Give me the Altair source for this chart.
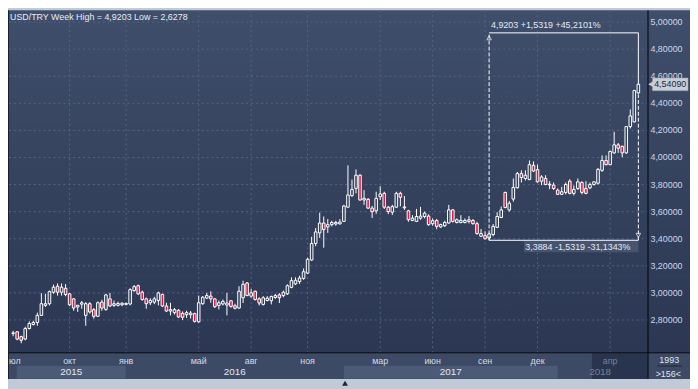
import altair as alt
import pandas as pd

# ---------------- data (weekly USD/TRY candles) ----------------
opens = [2.700, 2.713, 2.677, 2.659, 2.737, 2.766, 2.781, 2.834, 2.908, 2.920,
         3.005, 3.049, 3.005, 3.034, 2.993, 2.956, 2.896, 2.917, 2.834, 2.920,
         2.876, 2.827, 2.932, 2.878, 2.956, 2.908, 2.908, 2.912, 2.915, 2.918,
         3.017, 3.053, 3.005, 2.956, 2.927, 2.932, 2.944, 2.988, 2.903, 2.866,
         2.854, 2.871, 2.849, 2.839, 2.839, 2.847, 2.786, 2.920, 2.961, 2.976,
         2.956, 2.907, 2.918, 2.910, 2.942, 2.905, 2.888, 2.964, 3.073, 2.976,
         3.012, 2.956, 2.915, 2.944, 2.942, 2.966, 2.985, 2.980, 2.993, 3.041,
         3.066, 3.083, 3.107, 3.146, 3.243, 3.365, 3.443, 3.516, 3.487, 3.504,
         3.509, 3.510, 3.528, 3.633, 3.718, 3.772, 3.869, 3.686, 3.691, 3.626,
         3.606, 3.710, 3.735, 3.633, 3.596, 3.633, 3.735, 3.635, 3.606, 3.535,
         3.528, 3.552, 3.564, 3.567, 3.511, 3.535, 3.487, 3.496, 3.516, 3.613,
         3.520, 3.520, 3.520, 3.528, 3.535, 3.511, 3.418, 3.423, 3.405, 3.431,
         3.484, 3.557, 3.742, 3.613, 3.693, 3.776, 3.881, 3.845, 3.837, 3.942,
         3.910, 3.825, 3.845, 3.803, 3.796, 3.759, 3.728, 3.742, 3.825, 3.735,
         3.771, 3.815, 3.771, 3.776, 3.800, 3.810, 3.905, 3.978, 3.947, 4.034,
         4.093, 4.082, 4.034, 4.228, 4.263, 4.477]
highs = [2.720, 2.718, 2.684, 2.750, 2.790, 2.795, 2.854, 2.998, 2.993, 3.017,
         3.061, 3.070, 3.070, 3.065, 2.998, 2.961, 2.912, 2.940, 2.932, 2.932,
         2.888, 2.937, 2.950, 2.993, 3.000, 2.944, 2.935, 2.930, 2.928, 3.034,
         3.058, 3.061, 3.017, 2.966, 2.961, 2.971, 3.009, 2.995, 2.927, 2.927,
         2.888, 2.880, 2.863, 2.869, 2.866, 2.854, 2.980, 2.976, 3.000, 3.012,
         2.961, 2.944, 2.951, 3.000, 2.946, 2.920, 3.049, 3.090, 3.080, 3.029,
         3.017, 2.968, 2.976, 2.976, 2.980, 2.993, 2.998, 3.017, 3.063, 3.115,
         3.115, 3.127, 3.180, 3.260, 3.414, 3.479, 3.593, 3.564, 3.545, 3.533,
         3.533, 3.545, 3.650, 3.942, 3.837, 3.912, 3.876, 3.759, 3.700, 3.642,
         3.747, 3.788, 3.747, 3.642, 3.650, 3.747, 3.747, 3.715, 3.613, 3.574,
         3.620, 3.635, 3.600, 3.581, 3.550, 3.545, 3.511, 3.533, 3.650, 3.618,
         3.550, 3.574, 3.550, 3.567, 3.545, 3.525, 3.472, 3.455, 3.445, 3.509,
         3.596, 3.637, 3.747, 3.679, 3.845, 3.893, 3.905, 3.905, 3.978, 3.971,
         3.947, 3.869, 3.869, 3.825, 3.815, 3.771, 3.783, 3.815, 3.840, 3.793,
         3.845, 3.825, 3.825, 3.815, 3.825, 3.922, 4.015, 4.015, 4.051, 4.190,
         4.107, 4.088, 4.230, 4.355, 4.500, 4.9203]
lows = [2.680, 2.650, 2.628, 2.650, 2.730, 2.760, 2.757, 2.830, 2.896, 2.908,
        2.993, 2.980, 2.980, 2.975, 2.903, 2.868, 2.860, 2.883, 2.757, 2.847,
        2.810, 2.822, 2.868, 2.868, 2.896, 2.896, 2.900, 2.902, 2.908, 2.908,
        3.009, 2.985, 2.942, 2.883, 2.910, 2.917, 2.908, 2.895, 2.859, 2.834,
        2.840, 2.815, 2.800, 2.815, 2.810, 2.781, 2.781, 2.912, 2.956, 2.927,
        2.888, 2.878, 2.908, 2.834, 2.890, 2.878, 2.883, 2.925, 2.976, 2.964,
        2.944, 2.907, 2.907, 2.937, 2.915, 2.956, 2.925, 2.968, 2.985, 3.034,
        3.058, 3.066, 3.097, 3.139, 3.236, 3.345, 3.406, 3.334, 3.443, 3.491,
        3.496, 3.505, 3.525, 3.630, 3.710, 3.735, 3.681, 3.650, 3.620, 3.553,
        3.584, 3.686, 3.620, 3.582, 3.575, 3.628, 3.640, 3.613, 3.526, 3.530,
        3.523, 3.540, 3.550, 3.496, 3.496, 3.470, 3.480, 3.487, 3.511, 3.520,
        3.513, 3.513, 3.513, 3.513, 3.504, 3.430, 3.414, 3.394, 3.3884, 3.418,
        3.479, 3.552, 3.626, 3.600, 3.674, 3.772, 3.815, 3.830, 3.832, 3.893,
        3.815, 3.796, 3.796, 3.766, 3.760, 3.723, 3.723, 3.728, 3.728, 3.720,
        3.760, 3.728, 3.728, 3.766, 3.793, 3.800, 3.893, 3.942, 3.942, 4.027,
        4.034, 4.002, 4.027, 4.214, 4.258, 4.470]
closes = [2.705, 2.659, 2.650, 2.737, 2.774, 2.781, 2.834, 2.920, 2.920, 3.009,
          3.042, 3.005, 3.042, 2.988, 2.912, 2.888, 2.908, 2.927, 2.920, 2.859,
          2.827, 2.927, 2.888, 2.985, 2.903, 2.920, 2.922, 2.924, 2.922, 3.024,
          3.046, 2.993, 2.951, 2.920, 2.944, 2.956, 3.000, 2.903, 2.866, 2.876,
          2.876, 2.822, 2.820, 2.854, 2.851, 2.790, 2.927, 2.968, 2.980, 2.956,
          2.898, 2.927, 2.937, 2.925, 2.900, 2.886, 3.012, 3.063, 2.980, 3.000,
          2.951, 2.925, 2.964, 2.961, 2.973, 2.980, 2.964, 3.005, 3.053, 3.090,
          3.093, 3.110, 3.156, 3.248, 3.365, 3.450, 3.516, 3.467, 3.504, 3.520,
          3.520, 3.523, 3.642, 3.723, 3.764, 3.869, 3.686, 3.698, 3.626, 3.600,
          3.698, 3.730, 3.633, 3.600, 3.637, 3.735, 3.706, 3.628, 3.540, 3.552,
          3.564, 3.567, 3.589, 3.504, 3.533, 3.491, 3.504, 3.520, 3.613, 3.528,
          3.540, 3.535, 3.535, 3.540, 3.511, 3.438, 3.438, 3.400, 3.436, 3.491,
          3.564, 3.613, 3.630, 3.662, 3.779, 3.881, 3.852, 3.869, 3.947, 3.900,
          3.820, 3.856, 3.800, 3.797, 3.771, 3.728, 3.747, 3.800, 3.735, 3.764,
          3.820, 3.742, 3.735, 3.800, 3.820, 3.912, 3.978, 3.947, 4.044, 4.093,
          4.068, 4.034, 4.228, 4.307, 4.494, 4.5409]

y_ticks = [2.8, 3.0, 3.2, 3.4, 3.6, 3.8, 4.0, 4.2, 4.4, 4.6, 4.8, 5.0]
month_pos = [14, 28, 46, 59, 73, 91, 104, 117, 130, 148]
month_names = ["окт", "янв", "май", "авг", "ноя", "мар", "июн", "сен", "дек", "апр"]
first_month_label = "юл"
year_names = ["2015", "2016", "2017", "2018"]
year_start = [0.9, 27.9, 82.0, 135.0]
year_end = [27.9, 82.0, 135.0, 156.04]
year_band = [1, 0, 1, 0]
dim_start = 143.5
title_text = "USD/TRY Week High = 4,9203 Low = 2,6278"
meas_low_idx = 118
meas_last_idx = 155
meas_high = 4.9203
meas_low = 3.3884
corner_top = "1993"
corner_bottom = ">156<"

# ---------------- helpers ----------------
FONT = "Liberation Sans"
xs = alt.Scale(domain=[0.193, 156.04], nice=False, zero=False)
ys = alt.Scale(domain=[2.562, 5.0876], nice=False, zero=False)


def X(f):
    return alt.X(f, type="quantitative", scale=xs, axis=None)


def Y(f):
    return alt.Y(f, type="quantitative", scale=ys, axis=None)


def comma(v, d):
    return f"{v:.{d}f}".replace(".", ",")


one = pd.DataFrame({"k": [0]})
df = pd.DataFrame({"i": list(range(len(opens))), "o": opens, "h": highs, "l": lows, "c": closes})

layers = []

# plot + right axis background gradient
grad = alt.LinearGradient(gradient="linear", x1=0, x2=0, y1=0, y2=1,
                          stops=[alt.GradientStop(color="#3f4e6a", offset=0),
                                 alt.GradientStop(color="#2b3753", offset=1)])
layers.append(alt.Chart(one).mark_rect(fill=grad).encode(
    x=alt.value(-1), x2=alt.value(689), y=alt.value(0), y2=alt.value(346)))
# bottom axis background
layers.append(alt.Chart(one).mark_rect(fill="#3c4a65").encode(
    x=alt.value(-1), x2=alt.value(689), y=alt.value(346), y2=alt.value(373)))

# year bands
ydf = pd.DataFrame({"s": year_start, "e": year_end, "t": year_names, "b": year_band})
ydf["m"] = (ydf["s"] + ydf["e"]) / 2
layers.append(alt.Chart(ydf).transform_filter("datum.b == 1").mark_rect(fill="#4b5a77").encode(
    x=X("s"), x2="e", y=alt.value(359.7), y2=alt.value(372.7)))
# dim block
layers.append(alt.Chart(pd.DataFrame({"s": [dim_start]})).mark_rect(fill="#29344e").encode(
    x=X("s"), x2=alt.value(646), y=alt.value(347), y2=alt.value(373)))

# grid
gdash = [2, 3]
layers.append(alt.Chart(pd.DataFrame({"v": y_ticks})).mark_rule(
    color="#56647f", strokeDash=gdash, strokeWidth=1).encode(
    x=alt.value(0), x2=alt.value(646), y=Y("v")))
mdf = pd.DataFrame({"i": month_pos, "t": month_names})
layers.append(alt.Chart(mdf).mark_rule(
    color="#56647f", strokeDash=gdash, strokeWidth=1).encode(
    x=X("i"), y=alt.value(0), y2=alt.value(346)))

# candles
layers.append(alt.Chart(df).mark_rule(color="white", strokeWidth=1, clip=True).encode(
    x=X("i"), y=Y("l"), y2="h"))
layers.append(alt.Chart(df).mark_bar(width=2.6, stroke="white", strokeWidth=1, clip=True).encode(
    x=X("i"), y=Y("o"), y2="c",
    fill=alt.condition("datum.c < datum.o", alt.value("#e3173e"), alt.value("#34415c"))))

# measurement box
mdata = pd.DataFrame({"a": [meas_low_idx], "b": [meas_last_idx], "hi": [meas_high], "lo": [meas_low],
                      "top": [closes[meas_last_idx] - 0.075]})
diff = meas_high - meas_low
layers.append(alt.Chart(mdata).mark_rule(color="white", strokeWidth=1).encode(
    x=X("a"), x2="b", y=Y("hi")))
layers.append(alt.Chart(mdata).mark_rule(color="white", strokeWidth=1).encode(
    x=X("a"), x2="b", y=Y("lo")))
layers.append(alt.Chart(mdata).mark_rule(color="white", strokeWidth=1, strokeDash=[4, 2]).encode(
    x=X("a"), y=Y("lo"), y2="hi"))
layers.append(alt.Chart(mdata).mark_rule(color="white", strokeWidth=1, strokeDash=[4, 2]).encode(
    x=X("b"), y=Y("lo"), y2="top"))
layers.append(alt.Chart(mdata).mark_point(shape="triangle-up", filled=False, color="white",
                                          size=22, strokeWidth=1, yOffset=5).encode(
    x=X("a"), y=Y("hi")))
layers.append(alt.Chart(mdata).mark_point(shape="triangle-down", filled=False, color="white",
                                          size=22, strokeWidth=1, yOffset=-5).encode(
    x=X("b"), y=Y("lo")))
top_label = f"{comma(meas_high, 4)} +{comma(diff, 4)} +{comma(diff / meas_low * 100, 4)}%"
bot_label = f"{comma(meas_low, 4)} -{comma(diff, 4)} -{comma(diff / meas_high * 100, 4)}%"
layers.append(alt.Chart(mdata).mark_rect(fill="#46546f").encode(
    x=X("b"), x2=alt.value(521), y=alt.value(233.5), y2=alt.value(245)))
layers.append(alt.Chart(mdata).mark_text(text=top_label, align="left", baseline="middle",
                                         font=FONT, fontSize=9, color="#e4eaf4", dx=2, dy=-8).encode(
    x=X("a"), y=Y("hi")))
layers.append(alt.Chart(mdata).mark_text(text=bot_label, align="right", baseline="middle",
                                         font=FONT, fontSize=9, color="#e4eaf4", dx=-8, dy=7).encode(
    x=X("b"), y=Y("lo")))

# frame lines
layers.append(alt.Chart(one).mark_rect(fill="#000000").encode(
    x=alt.value(-1), x2=alt.value(689), y=alt.value(346), y2=alt.value(347)))
layers.append(alt.Chart(one).mark_rect(fill="#000000").encode(
    x=alt.value(646), x2=alt.value(647), y=alt.value(0), y2=alt.value(373)))
layers.append(alt.Chart(one).mark_rect(fill="#1a2131").encode(
    x=alt.value(-1), x2=alt.value(0), y=alt.value(0), y2=alt.value(373)))

# y labels (right)
tdf = pd.DataFrame({"v": y_ticks, "t": [comma(v, 5) for v in y_ticks]})
layers.append(alt.Chart(tdf).mark_text(align="left", baseline="middle", font=FONT, fontSize=9,
                                       color="#cbd7ec").encode(
    x=alt.value(649), y=Y("v"), text="t"))

# price tag
pdf = pd.DataFrame({"c": [closes[-1]], "t": [comma(closes[-1], 5)]})
layers.append(alt.Chart(pdf).mark_rect(fill="#c9cdd5", stroke="#8d96a8", strokeWidth=0.5).encode(
    x=alt.value(651), x2=alt.value(687), y=alt.value(68.5), y2=alt.value(81.5)))
layers.append(alt.Chart(pdf).mark_point(shape="triangle-left", filled=True, color="#c9cdd5",
                                        size=40, opacity=1).encode(
    x=alt.value(649.5), y=Y("c")))
layers.append(alt.Chart(pdf).mark_text(align="center", baseline="middle", font=FONT, fontSize=9,
                                       color="#1c2840").encode(
    x=alt.value(669), y=Y("c"), text="t"))

# month labels
layers.append(alt.Chart(mdf).mark_text(baseline="middle", font=FONT, fontSize=9).encode(
    x=X("i"), y=alt.value(355), text="t",
    color=alt.condition(f"datum.i >= {dim_start}", alt.value("#76829a"), alt.value("#d3dbea"))))
layers.append(alt.Chart(one).mark_text(text=first_month_label, align="left", baseline="middle",
                                       font=FONT, fontSize=9, color="#d3dbea").encode(
    x=alt.value(0), y=alt.value(355)))
# year labels
layers.append(alt.Chart(ydf).mark_text(baseline="middle", font=FONT, fontSize=10).encode(
    x=X("m"), y=alt.value(366), text="t",
    color=alt.condition(f"datum.s >= {dim_start - 10}", alt.value("#76829a"), alt.value("#e1e7f2"))))

# corner cell
layers.append(alt.Chart(one).mark_text(text=corner_top, align="center", baseline="middle",
                                       font=FONT, fontSize=9, color="#dfe6f2").encode(
    x=alt.value(668), y=alt.value(353.5)))
layers.append(alt.Chart(one).mark_rule(color="#1f2738", strokeWidth=1).encode(
    x=alt.value(656), x2=alt.value(681), y=alt.value(360)))
layers.append(alt.Chart(one).mark_text(text=corner_bottom, align="center", baseline="middle",
                                       font=FONT, fontSize=9, color="#dfe6f2").encode(
    x=alt.value(667), y=alt.value(368)))

# title
layers.append(alt.Chart(one).mark_text(text=title_text, align="left", baseline="middle",
                                       font=FONT, fontSize=9, color="#e8edf6").encode(
    x=alt.value(1), y=alt.value(7)))

# bottom frame triangle
layers.append(alt.Chart(one).mark_point(shape="triangle-up", filled=True, color="#1c2333",
                                        size=35, opacity=1).encode(
    x=alt.value(340), y=alt.value(377.5)))

chart = alt.layer(*layers).properties(
    width=646, height=346,
    autosize=alt.AutoSizeParams(type="none"),
    padding={"left": 1, "top": 0, "right": 43, "bottom": 35},
    background="#c1cad7",
).configure_view(stroke=None)

chart.save("out.html", embed_options={"renderer": "svg", "actions": False})
